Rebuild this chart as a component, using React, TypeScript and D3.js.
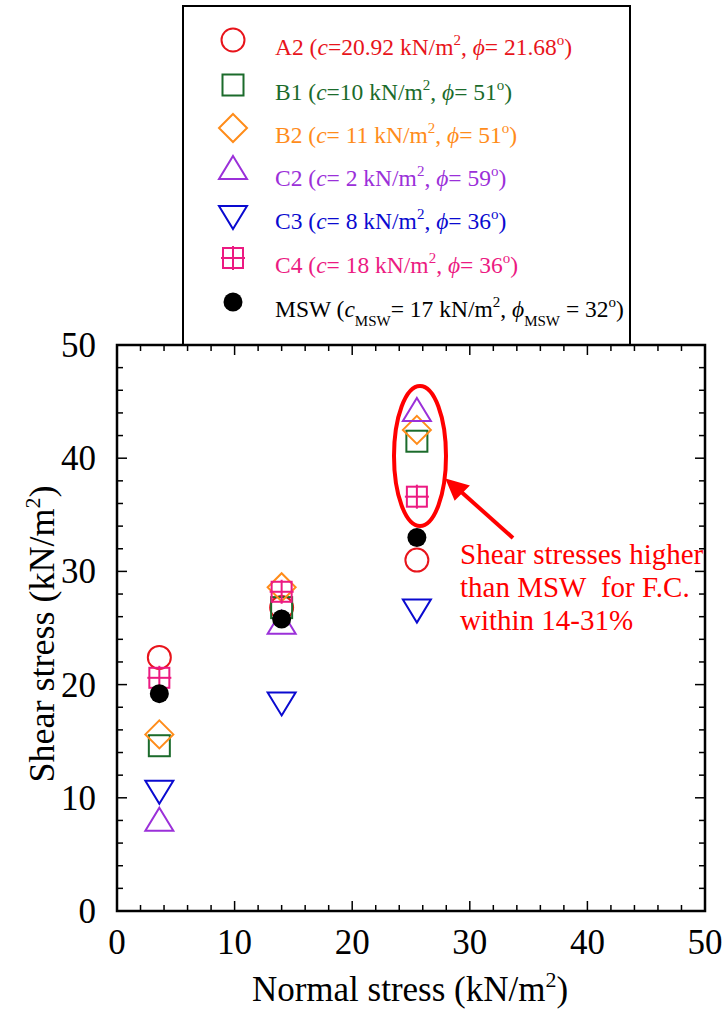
import React from "react";
import * as d3 from "d3";

const W = 723, H = 1014;
const series = ["A2", "B1", "B2", "C2", "C3", "C4", "MSW"];
const colors = ["#e8141b", "#1b6b2b", "#ff8c1a", "#9b30d9", "#0a0ad0", "#ec1a82", "#000000"];
const shapes = ["circle", "square", "diamond", "triUp", "triDown", "grid", "dot"];
const cValues = ["20.92", "10", " 11", " 2", " 8", " 18", "17"];
const phiValues = [" 21.68", " 51", " 51", " 59", " 36", " 36", "32"];
const normalStress = [3.6, 14.0, 25.5];
const shearA2 = [22.4, 26.8, 31.0];
const shearB1 = [14.6, 26.8, 41.5];
const shearB2 = [15.6, 28.6, 42.5];
const shearC2 = [7.8, 25.2, 44.0];
const shearC3 = [10.8, 18.6, 26.8];
const shearC4 = [20.6, 28.2, 36.6];
const shearMSW = [19.2, 25.8, 33.0];
const shearAll = [shearA2, shearB1, shearB2, shearC2, shearC3, shearC4, shearMSW];
const majorTicks = [0, 10, 20, 30, 40, 50];
const minorTicks = d3.range(0, 51, 2);

const X0 = 117, X1 = 705, Y0 = 911, Y1 = 345;
const x = d3.scaleLinear().domain([0, 50]).range([X0, X1]);
const y = d3.scaleLinear().domain([0, 50]).range([Y0, Y1]);
const FONT = "'Liberation Serif', 'Times New Roman', serif";

function Marker({ shape, color, cx, cy }: { shape: string; color: string; cx: number; cy: number }) {
  const sw = 2;
  if (shape === "circle") return <circle cx={cx} cy={cy} r={11.5} fill="none" stroke={color} strokeWidth={sw} />;
  if (shape === "square") return <rect x={cx - 10.5} y={cy - 10.5} width={21} height={21} fill="none" stroke={color} strokeWidth={sw} />;
  if (shape === "diamond") return <path d={`M${cx},${cy - 14}L${cx + 14},${cy}L${cx},${cy + 14}L${cx - 14},${cy}Z`} fill="none" stroke={color} strokeWidth={sw} />;
  if (shape === "triUp") return <path d={`M${cx},${cy - 15}L${cx + 14},${cy + 8}L${cx - 14},${cy + 8}Z`} fill="none" stroke={color} strokeWidth={sw} />;
  if (shape === "triDown") return <path d={`M${cx},${cy + 15}L${cx + 14},${cy - 8}L${cx - 14},${cy - 8}Z`} fill="none" stroke={color} strokeWidth={sw} />;
  if (shape === "grid") return (
    <g fill="none" stroke={color} strokeWidth={sw}>
      <rect x={cx - 10} y={cy - 10} width={20} height={20} />
      <line x1={cx} y1={cy - 12} x2={cx} y2={cy + 12} />
      <line x1={cx - 12} y1={cy} x2={cx + 12} y2={cy} />
    </g>
  );
  return <circle cx={cx} cy={cy} r={9.5} fill={color} />;
}

const LF = 23.5, LS = 15;

function LegendText({ i, tx, ty }: { i: number; tx: number; ty: number }) {
  const col = colors[i];
  if (series[i] === "MSW") {
    return (
      <text x={tx} y={ty} fill={col} fontFamily={FONT} fontSize={LF}>
        MSW (<tspan fontStyle="italic">c</tspan>
        <tspan dy={9} fontSize={LS}>MSW</tspan>
        <tspan dy={-9}>= 17 kN/m</tspan>
        <tspan dy={-10} fontSize={LS}>2</tspan>
        <tspan dy={10}>, </tspan>
        <tspan fontStyle="italic">ϕ</tspan>
        <tspan dy={9} fontSize={LS}>MSW</tspan>
        <tspan dy={-9}> = 32</tspan>
        <tspan dy={-10} fontSize={LS}>o</tspan>
        <tspan dy={10}>)</tspan>
      </text>
    );
  }
  return (
    <text x={tx} y={ty} fill={col} fontFamily={FONT} fontSize={LF}>
      {series[i]} (<tspan fontStyle="italic">c</tspan>
      <tspan>={cValues[i]} kN/m</tspan>
      <tspan dy={-10} fontSize={LS}>2</tspan>
      <tspan dy={10}>, </tspan>
      <tspan fontStyle="italic">ϕ</tspan>
      <tspan>={phiValues[i]}</tspan>
      <tspan dy={-10} fontSize={LS}>o</tspan>
      <tspan dy={10}>)</tspan>
    </text>
  );
}

export default function App() {
  const legendRowsY = [40, 85, 128, 171, 214, 258, 302];
  return (
    <div style={{ position: "absolute", left: 0, top: 0 }}>
      <svg width={W} height={H} style={{ display: "block", background: "#fff" }}>
        <rect width={W} height={H} fill="#fff" />
        {/* legend box */}
        <rect x={183} y={6} width={447} height={Y1 - 6} fill="#fff" stroke="#000" strokeWidth={2} />
        {series.map((s, i) => (
          <g key={s}>
            <Marker shape={shapes[i]} color={colors[i]} cx={233} cy={legendRowsY[i]} />
            <LegendText i={i} tx={275} ty={legendRowsY[i] + 15} />
          </g>
        ))}
        {/* frame */}
        <rect x={X0} y={Y1} width={X1 - X0} height={Y0 - Y1} fill="none" stroke="#000" strokeWidth={2.5} />
        {/* ticks */}
        <g stroke="#000" strokeWidth={1.5}>
          {minorTicks.map((t) => {
            const len = t % 10 === 0 ? 10 : 6;
            return (
              <g key={t}>
                <line x1={x(t)} y1={Y0} x2={x(t)} y2={Y0 - len} />
                <line x1={x(t)} y1={Y1} x2={x(t)} y2={Y1 + len} />
                <line x1={X0} y1={y(t)} x2={X0 + len} y2={y(t)} />
                <line x1={X1} y1={y(t)} x2={X1 - len} y2={y(t)} />
              </g>
            );
          })}
        </g>
        {majorTicks.map((t) => (
          <g key={t} fontFamily={FONT} fontSize={35} fill="#000">
            <text x={x(t)} y={Y0 + 43} textAnchor="middle">{t}</text>
            <text x={X0 - 21} y={y(t) + 12} textAnchor="end">{t}</text>
          </g>
        ))}
        {/* axis titles */}
        <text x={410} y={1001} textAnchor="middle" fontFamily={FONT} fontSize={35} fill="#000">
          Normal stress (kN/m<tspan dy={-14} fontSize={22}>2</tspan><tspan dy={14}>)</tspan>
        </text>
        <text transform={`translate(54,634) rotate(-90)`} textAnchor="middle" fontFamily={FONT} fontSize={36} fill="#000">
          Shear stress (kN/m<tspan dy={-14} fontSize={22}>2</tspan><tspan dy={14}>)</tspan>
        </text>
        {/* data */}
        {series.map((s, i) => (
          <g key={s}>
            {normalStress.map((n, j) => (
              <Marker key={j} shape={shapes[i]} color={colors[i]} cx={x(n)} cy={y(shearAll[i][j])} />
            ))}
          </g>
        ))}
        {/* annotation */}
        <ellipse cx={420} cy={456} rx={26} ry={70} fill="none" stroke="#f00" strokeWidth={4} />
        <line x1={513} y1={538} x2={458} y2={489} stroke="#f00" strokeWidth={4} />
        <path d="M447,480 L468,486 L455,499 Z" fill="#f00" stroke="#f00" strokeWidth={2} />
        <g fontFamily={FONT} fontSize={29} fill="#f00">
          <text x={460} y={564}>Shear stresses higher</text>
          <text x={460} y={597}>{"than MSW\u00a0 for F.C."}</text>
          <text x={460} y={630}>within 14-31%</text>
        </g>
      </svg>
    </div>
  );
}
